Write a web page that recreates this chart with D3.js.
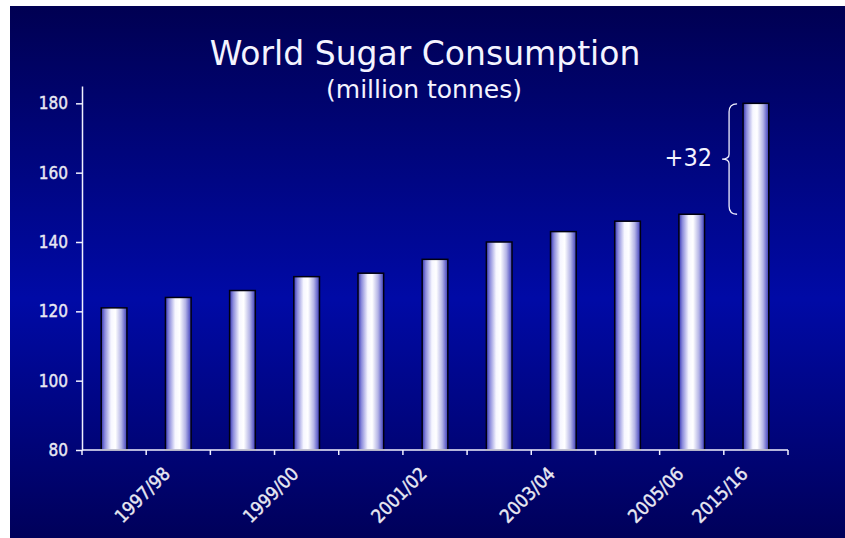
<!DOCTYPE html>
<html>
<head>
<meta charset="utf-8">
<script src="https://cdn.jsdelivr.net/npm/d3@7"></script>
<style>
html,body{margin:0;padding:0;background:#fff;}
svg{display:block;}
</style>
</head>
<body>
<svg id="chart" width="845" height="538"></svg>
<script>
// ---- data ----
const categories = ["1996/97","1997/98","1998/99","1999/00","2000/01","2001/02","2002/03","2003/04","2004/05","2005/06","2015/16"];
const consumption = [121,124,126,130,131,135,140,143,146,148,180];
const shownLabels = ["1997/98","1999/00","2001/02","2003/04","2005/06","2015/16"];
const yTicks = [80,100,120,140,160,180];
const titleText = "World Sugar Consumption";
const subtitleText = "(million tonnes)";
const annotation = {from: "2005/06", to: "2015/16", text: "+32"};

// ---- layout ----
const W = 845, H = 538;
const svg = d3.select("#chart");
const defs = svg.append("defs");

const bg = defs.append("linearGradient").attr("id","bg").attr("x1",0).attr("y1",0).attr("x2",0).attr("y2",1);
[[0,"#000052"],[0.55,"#000aa6"],[1,"#00005a"]].forEach(([o,c])=>bg.append("stop").attr("offset",o).attr("stop-color",c));

const bar = defs.append("linearGradient").attr("id","bar").attr("x1",0).attr("y1",0).attr("x2",1).attr("y2",0);
[[0,"#3434b4"],[0.14,"#8c8cdc"],[0.38,"#f6f6ff"],[0.55,"#ffffff"],[0.78,"#b4b4e6"],[1,"#3c3cbc"]].forEach(([o,c])=>bar.append("stop").attr("offset",o).attr("stop-color",c));

svg.append("rect").attr("x",10).attr("y",6).attr("width",W-10).attr("height",H-6).attr("fill","url(#bg)");

const x = d3.scaleBand().domain(categories).range([82,788]).paddingInner(0.6).paddingOuter(0.3);
const y = d3.scaleLinear().domain([80,185]).range([450,86]);

// title
svg.append("text").attr("x",425).attr("y",65).attr("text-anchor","middle")
  .attr("font-family","DejaVu Sans, Verdana, sans-serif").attr("font-size",33).attr("fill","#f4f4ff")
  .text(titleText);
svg.append("text").attr("x",424).attr("y",98).attr("text-anchor","middle")
  .attr("font-family","DejaVu Sans, Verdana, sans-serif").attr("font-size",25).attr("fill","#f4f4ff")
  .text(subtitleText);

const condensed = "'DejaVu Sans Condensed', 'Noto Sans', sans-serif";

// bars
svg.append("g").selectAll("rect").data(categories).join("rect")
  .attr("x",d=>x(d)).attr("width",x.bandwidth())
  .attr("y",(d,i)=>y(consumption[i])).attr("height",(d,i)=>y(80)-y(consumption[i]))
  .attr("fill","url(#bar)").attr("stroke","#000010").attr("stroke-width",1.5);

// y axis
const yAxis = svg.append("g").attr("transform","translate(82,0)")
  .call(d3.axisLeft(y).tickValues(yTicks).tickSize(6).tickSizeOuter(0).tickPadding(8));
yAxis.select(".domain").attr("stroke","#f0f0ff").attr("stroke-width",1.5);
yAxis.selectAll(".tick line").attr("stroke","#f0f0ff").attr("stroke-width",1.5);
yAxis.selectAll(".tick text").attr("font-family",condensed).attr("font-size",17)
  .attr("fill","#e8e8f2").attr("stroke","#e8e8f2").attr("stroke-width",0.4);

// x axis line + ticks at band boundaries
const xg = svg.append("g");
xg.append("line").attr("x1",x.range()[0]).attr("x2",x.range()[1]).attr("y1",y(80)).attr("y2",y(80))
  .attr("stroke","#f0f0ff").attr("stroke-width",1.5);
const bounds = d3.range(categories.length+1).map(i=>x.range()[0]+i*x.step());
xg.selectAll("line.t").data(bounds).join("line").attr("class","t")
  .attr("x1",d=>d).attr("x2",d=>d).attr("y1",y(80)).attr("y2",y(80)+5)
  .attr("stroke","#f0f0ff").attr("stroke-width",1.5);
xg.selectAll("text").data(shownLabels).join("text")
  .attr("transform",d=>`translate(${x(d)+x.bandwidth()/2-7},475) rotate(-45)`)
  .attr("text-anchor","end").attr("font-family",condensed).attr("font-size",18.5)
  .attr("fill","#e8e8f2").attr("stroke","#e8e8f2").attr("stroke-width",0.4).text(d=>d);

// annotation brace
const vTo = consumption[categories.indexOf(annotation.to)];
const vFrom = consumption[categories.indexOf(annotation.from)];
const yt = y(vTo)+0.5, yb = y(vFrom), ym = (yt+yb)/2;
const bl = x(annotation.to);
const hx = bl-6, lx = bl-14, tx = bl-21, r = 8;
const p = d3.path();
p.moveTo(hx,yt); p.quadraticCurveTo(lx,yt,lx,yt+r); p.lineTo(lx,ym-r*0.6);
p.quadraticCurveTo(lx,ym,tx,ym); p.quadraticCurveTo(lx,ym,lx,ym+r*0.6);
p.lineTo(lx,yb-r); p.quadraticCurveTo(lx,yb,hx,yb);
svg.append("path").attr("d",p.toString()).attr("fill","none").attr("stroke","#f0f0ff").attr("stroke-width",1.3);
svg.append("text").attr("x",tx-10).attr("y",ym+7).attr("text-anchor","end")
  .attr("font-family",condensed).attr("font-size",25).attr("fill","#f4f4ff").text(annotation.text);
</script>
</body>
</html>
